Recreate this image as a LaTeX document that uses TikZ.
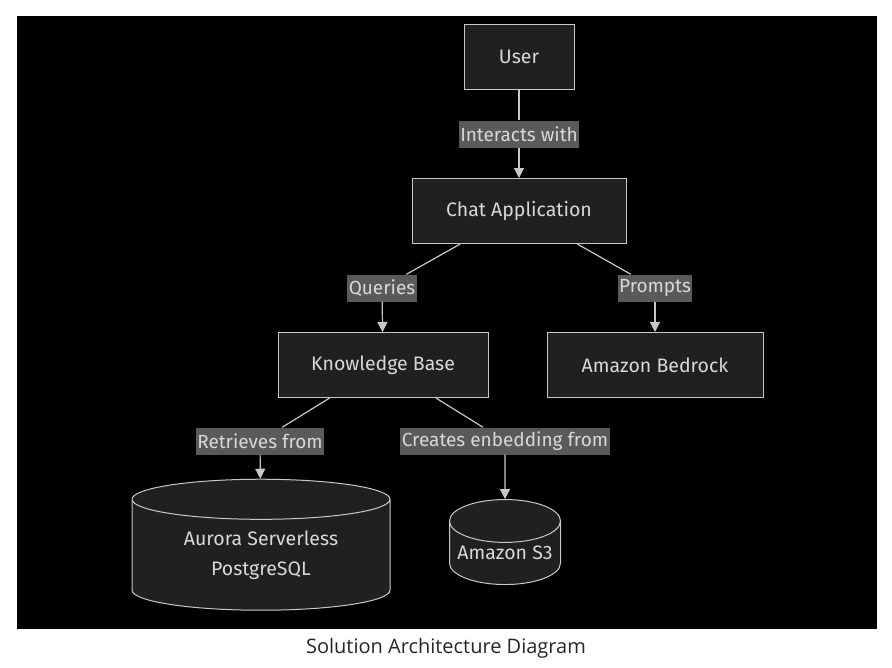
\documentclass[tikz,border=0pt]{standalone}
\usepackage{fontspec}
\setmainfont{Fira Sans}
\newfontfamily\captionfont{Open Sans}
\usetikzlibrary{shapes.geometric,arrows.meta}

\definecolor{boxbg}{HTML}{1F2020}
\definecolor{boxline}{HTML}{C8C8C8}
\definecolor{lblbg}{HTML}{5A5A5A}
\definecolor{txt}{HTML}{D8D8D8}

\begin{document}
\begin{tikzpicture}[x=1pt,y=-1pt,
    box/.style={draw=boxline, fill=boxbg, text=txt, line width=1pt,
        minimum height=65pt, inner sep=0pt, font=\fontsize{19.5}{23}\selectfont},
    db/.style={cylinder, shape border rotate=90, draw=boxline, fill=boxbg,
        text=txt, line width=1pt, inner sep=0pt, align=center,
        font=\fontsize{19.5}{30}\selectfont},
    lbl/.style={fill=lblbg, text=txt, inner sep=1.5pt, minimum height=27pt,
        font=\fontsize{19}{23}\selectfont},
    edge/.style={draw=boxline, line width=1.2pt},
    >={Triangle[length=10pt,width=10pt]}]
    \useasboundingbox (0,0) rectangle (892,667);
    \fill[black] (17,16) rectangle (877,629);

    % Nodes
    \node[box, minimum width=110pt] (user) at (519,57) {User};
    \node[box, minimum width=214pt] (chat) at (519,211) {Chat Application};
    \node[box, minimum width=210pt] (kb) at (383,365) {Knowledge Base};
    \node[box, minimum width=216pt] (bedrock) at (655,365) {Amazon Bedrock};
    \node[db, minimum width=258pt, minimum height=131pt, aspect=0.26]
        (aurora) at (261,555) {Aurora Serverless\\PostgreSQL};
    \node[db, minimum width=111pt, minimum height=85pt, aspect=0.45]
        (sthree) at (505,553) {Amazon S3};

    % Labels
    \node[lbl] (interacts) at (519,134) {Interacts with};
    \node[lbl] (queries) at (382,288) {Queries};
    \node[lbl] (prompts) at (655,288) {Prompts};
    \node[lbl] (retrieves) at (260,441) {Retrieves from};
    \node[lbl] (creates) at (505,441) {Creates enbedding from};

    % Edges
    \foreach \a/\b/\c in {user/interacts/chat, chat/queries/kb,
        chat/prompts/bedrock, kb/retrieves/aurora, kb/creates/sthree} {
        \draw[edge] (\a) -- (\b);
        \draw[edge,->] (\b) -- (\c);
    }

    % Caption
    \node[font=\captionfont\fontsize{20}{24}\selectfont, text=black!85]
        (caption) at (446,648) {Solution Architecture Diagram};
\end{tikzpicture}
\end{document}
